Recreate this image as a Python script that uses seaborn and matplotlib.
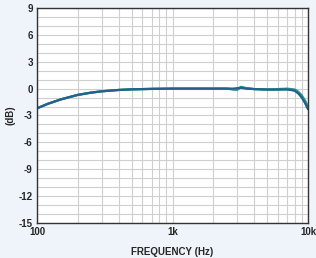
import numpy as np
import pandas as pd
import seaborn as sns
import matplotlib.pyplot as plt
from matplotlib.ticker import FixedLocator, NullFormatter

# frequency response
freq = [100, 120, 150, 200, 250, 300, 400, 500, 700, 1000, 1500, 2000, 2500, 2800,
        3000, 3200, 3500, 4000, 5000, 6000, 7000, 7500, 8000, 8500, 9000, 9500, 10000]
gain_a = [-2.2, -1.7, -1.2, -0.7, -0.45, -0.3, -0.15, -0.08, -0.03, 0.0, 0.0, 0.0, 0.0, -0.05,
          -0.1, 0.15, 0.05, -0.05, -0.1, -0.1, -0.05, -0.1, -0.2, -0.5, -0.95, -1.5, -2.2]
gain_b = [-2.2, -1.7, -1.2, -0.7, -0.45, -0.3, -0.15, -0.08, -0.03, 0.0, 0.0, 0.0, 0.0, -0.1,
          -0.15, 0.2, 0.05, -0.05, -0.1, -0.05, 0.0, -0.05, -0.1, -0.35, -0.75, -1.3, -2.0]
gain_c = [-2.2, -1.7, -1.2, -0.7, -0.45, -0.3, -0.15, -0.08, -0.03, 0.0, 0.0, 0.0, 0.0, 0.0,
          0.05, 0.1, 0.0, -0.05, -0.1, -0.1, -0.1, -0.15, -0.25, -0.55, -1.0, -1.6, -2.3]

yticks = [9, 6, 3, 0, -3, -6, -9, -12, -15]
xticks = [100, 1000, 10000]
xticklabels = ['100', '1k', '10k']

df = pd.DataFrame({
    'freq': freq * 3,
    'gain': gain_a + gain_b + gain_c,
    'trace': ['a'] * len(freq) + ['b'] * len(freq) + ['c'] * len(freq),
})

sns.set_style('white')
plt.rcParams['font.family'] = ['Liberation Sans', 'DejaVu Sans']
plt.rcParams['axes.unicode_minus'] = False

fig = plt.figure(figsize=(3.16, 2.58), dpi=100, facecolor='#eef4fa')
ax = fig.add_axes([37 / 316, 1 - 223 / 258, 271 / 316, 215 / 258])
ax.set_facecolor('white')

sns.lineplot(data=df, x='freq', y='gain', hue='trace',
             palette=['#6aa84f', '#2a9d8f', '#245f8f'], linewidth=1.6,
             legend=False, ax=ax, estimator=None)

ax.set_xscale('log')
ax.set_xlim(100, 10000)
ax.set_ylim(-15, 9)

ax.set_xticks(xticks)
ax.set_xticklabels(xticklabels)
ax.set_yticks(yticks)
ax.yaxis.set_minor_locator(FixedLocator(np.arange(-15, 9, 1)))
minor_x = [m * d for d in (100, 1000) for m in range(2, 10)]
ax.xaxis.set_minor_locator(FixedLocator(minor_x))
ax.xaxis.set_minor_formatter(NullFormatter())

ax.grid(which='both', color='#cfcfcf', linewidth=0.8)
ax.tick_params(which='both', length=0, labelsize=7, pad=3)
for lbl in ax.get_xticklabels() + ax.get_yticklabels():
    lbl.set_fontweight('bold')

for s in ax.spines.values():
    s.set_color('#333333')
    s.set_linewidth(1.0)

ax.set_xlabel('FREQUENCY (Hz)', fontsize=7, fontweight='bold', labelpad=7)
ax.set_ylabel('(dB)', fontsize=7, fontweight='bold', labelpad=2)

fig.savefig('out.png', dpi=100, facecolor=fig.get_facecolor())
